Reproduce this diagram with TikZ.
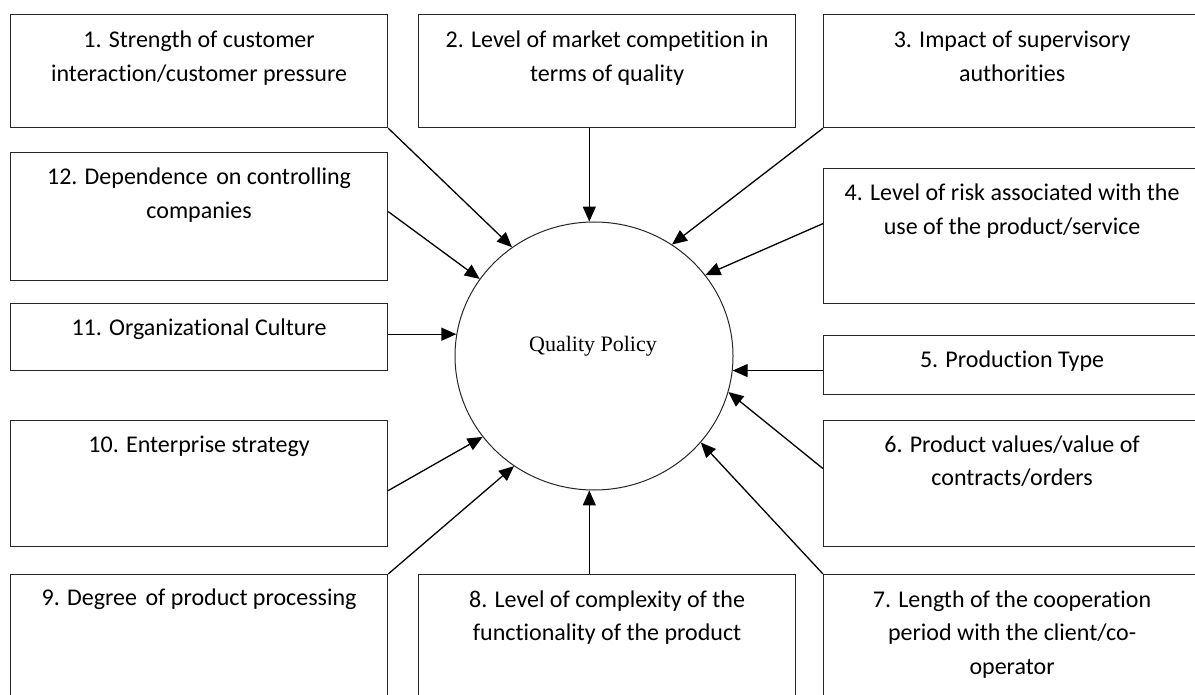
\documentclass[tikz,border=0pt]{standalone}
\usepackage{fontspec}
\setmainfont[Ligatures={NoCommon}]{Carlito}
\newfontfamily\qpfont{Liberation Serif}
\usetikzlibrary{arrows.meta,calc,shapes.geometric}

\begin{document}
\begin{tikzpicture}[x=1pt,y=-1pt,
  box/.style={draw=black!85, line width=1.2pt, rectangle, inner sep=0pt, anchor=north west},
  lbl/.style={font=\fontsize{24}{33.7}\selectfont, align=center, anchor=base, inner sep=0pt},
  arr/.style={draw=black, line width=1.3pt, -{Triangle[length=15pt,width=13pt]}},
]
\useasboundingbox (0,0) rectangle (1195,695);

% factor boxes
\node[box, minimum width=377pt, minimum height=113pt] (b1)  at (10,14)   {};
\node[box, minimum width=377pt, minimum height=113pt] (b2)  at (418,14)  {};
\node[box, minimum width=377pt, minimum height=113pt] (b3)  at (823,14)  {};
\node[box, minimum width=377pt, minimum height=128pt] (b12) at (10,152)  {};
\node[box, minimum width=377pt, minimum height=135pt] (b4)  at (823,168) {};
\node[box, minimum width=377pt, minimum height=67pt]  (b11) at (10,303)  {};
\node[box, minimum width=377pt, minimum height=59pt]  (b5)  at (823,335) {};
\node[box, minimum width=377pt, minimum height=126pt] (b10) at (10,420)  {};
\node[box, minimum width=377pt, minimum height=126pt] (b6)  at (823,420) {};
\node[box, minimum width=377pt, minimum height=146pt] (b9)  at (10,574)  {};
\node[box, minimum width=377pt, minimum height=146pt] (b8)  at (418,574) {};
\node[box, minimum width=377pt, minimum height=146pt] (b7)  at (823,574) {};

% box texts (anchored at the baseline of the last line)
\node[lbl] (t1)  at ($(b1.north)+(0,67.7)$)  {1. Strength of customer\\interaction/customer pressure};
\node[lbl] (t2)  at ($(b2.north)+(0,67.7)$)  {2. Level of market competition in\\terms of quality};
\node[lbl] (t3)  at ($(b3.north)+(0,67.7)$)  {3. Impact of supervisory\\authorities};
\node[lbl] (t12) at ($(b12.north)+(0,66.7)$) {12. Dependence\hspace{3pt} on controlling\\companies};
\node[lbl] (t4)  at ($(b4.north)+(0,66.7)$)  {4. Level of risk associated with the\\use of the product/service};
\node[lbl] (t11) at ($(b11.north)+(0,32)$)   {11. Organizational Culture};
\node[lbl] (t5)  at ($(b5.north)+(0,32)$)    {5. Production Type};
\node[lbl] (t10) at ($(b10.north)+(0,32)$)   {10. Enterprise strategy};
\node[lbl] (t6)  at ($(b6.north)+(0,65.7)$)  {6. Product values/value of\\contracts/orders};
\node[lbl] (t9)  at ($(b9.north)+(0,31)$)    {9. Degree\hspace{3pt} of product processing};
\node[lbl] (t8)  at ($(b8.north)+(0,66.7)$)  {8. Level of complexity of the\\functionality of the product};
\node[lbl] (t7)  at ($(b7.north)+(0,100.4)$) {7. Length of the cooperation\\period with the client/co-\\operator};

% central policy
\node[draw=black!85, line width=1pt, ellipse, minimum width=278pt, minimum height=268pt, inner sep=0pt] (qp) at (594,356) {};
\node[font=\qpfont\fontsize{22}{26}\selectfont, anchor=base, inner sep=0pt] (qpt) at (593,351) {Quality Policy};

% influences
\draw[arr] (b1.south east) -- (qp.127);
\draw[arr] (b2.south -| qp.92) -- (qp.92);
\draw[arr] (b3.south west) -- (qp.55);
\draw[arr] ($(b4.west)+(0,-12.5)$) -- (qp.36.5);
\draw[arr] ($(b12.east)+(0,-5)$) -- (qp.146.7);
\draw[arr] (b11.east |- qp.171.5) -- (qp.171.5);
\draw[arr] (b5.west |- qp.-6.2) -- (qp.-6.2);
\draw[arr] ($(b6.west)+(0,-15)$) -- (qp.-15.7);
\draw[arr] (b7.north west) -- (qp.-39.9);
\draw[arr] ($(b10.east)+(0,7)$) -- (qp.-144.3);
\draw[arr] (b9.north east) -- (qp.234.3);
\draw[arr] (b8.north -| qp.268) -- (qp.268);
\end{tikzpicture}
\end{document}
